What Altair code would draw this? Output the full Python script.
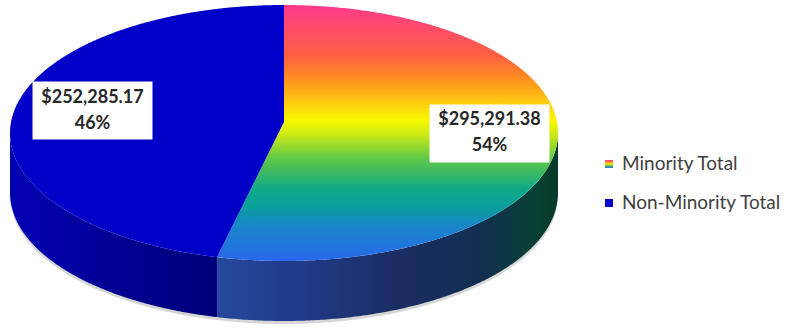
import numpy as np
import pandas as pd
import altair as alt

# ---- data ----
categories = ["Minority Total", "Non-Minority Total"]
values = [295291.38, 252285.17]

# ---- pie geometry (pixel space) ----
CX, CY, A, B, VY, THICK = 284, 133, 274, 128, 122, 60
W, H = 792, 330

total = sum(values)
shares = [v / total for v in values]
th1 = 2 * np.pi * shares[0]
ex, ey = CX + A * np.sin(th1), CY - B * np.cos(th1)


def ytop(x):
    return CY - B * np.sqrt(np.clip(1 - ((x - CX) / A) ** 2, 0, 1))


def ybot(x):
    return CY + B * np.sqrt(np.clip(1 - ((x - CX) / A) ** 2, 0, 1))


def sample(x0, x1, n=200):
    t0 = np.arcsin(np.clip((x0 - CX) / A, -1, 1))
    t1 = np.arcsin(np.clip((x1 - CX) / A, -1, 1))
    return CX + A * np.sin(np.linspace(t0, t1, n))


def line_v_e(x):
    return VY + (ey - VY) * (x - CX) / (ex - CX)


# minority top
xa = np.linspace(ex, CX - 0.01, 80)
xb = sample(CX, CX + A)
min_top = pd.DataFrame({
    "x": np.concatenate([xa, xb]),
    "y": np.concatenate([line_v_e(xa), ytop(xb)]),
    "y2": np.concatenate([ybot(xa), ybot(xb)]),
})
# non-minority top
xc = sample(CX - A, ex)
xd = np.linspace(ex, CX - 0.01, 80)
non_top = pd.DataFrame({
    "x": np.concatenate([xc, xd]),
    "y": np.concatenate([ytop(xc), ytop(xd)]),
    "y2": np.concatenate([ybot(xc), line_v_e(xd)]),
})
# sides
xe = sample(ex, CX + A)
min_side = pd.DataFrame({"x": xe, "y": ybot(xe), "y2": ybot(xe) + THICK})
xf = sample(CX - A, ex)
non_side = pd.DataFrame({"x": xf, "y": ybot(xf), "y2": ybot(xf) + THICK})
xg = sample(CX - A + 4, CX + A - 2)
shadow = pd.DataFrame({"x": xg, "y": ybot(xg) + THICK - 2, "y2": ybot(xg) + THICK + 3})

# labels
F = 0.73
LX = CX + 7
mids = [np.pi * shares[0], th1 + np.pi * shares[1]]
lab = pd.DataFrame({
    "cat": categories,
    "cx": [LX + A * F * np.sin(m) for m in mids],
    "cy": [VY - B * F * np.cos(m) for m in mids],
    "money": [f"${v:,.2f}" for v in values],
    "pct": [f"{round(s * 100)}%" for s in shares],
})
lab["x0"] = lab.cx - 60
lab["x1"] = lab.cx + 60
lab["y0"] = lab.cy - 29
lab["y1"] = lab.cy + 29
lab["ym"] = lab.cy - 13
lab["yp"] = lab.cy + 13

leg = pd.DataFrame({"cat": categories, "ly": [164 + 39 * i for i in range(len(categories))]})
leg["lx"] = 622
leg["sx0"], leg["sx1"] = 605, 613
leg["sy0"], leg["sy1"] = leg.ly - 4, leg.ly + 4

xs = alt.Scale(domain=[0, W], nice=False, zero=False)
ys = alt.Scale(domain=[0, H], reverse=True, nice=False, zero=False)


def enc_area(ch):
    return ch.encode(
        x=alt.X("x:Q", scale=xs, axis=None),
        y=alt.Y("y:Q", scale=ys, axis=None),
        y2="y2:Q",
    )


def stops(lst):
    return [alt.GradientStop(color=c, offset=o) for o, c in lst]


rainbow = stops([
    (0.0, "#FF3A8C"), (0.2, "#FF6040"), (0.29, "#FF9020"), (0.37, "#FFC412"),
    (0.45, "#F8F800"), (0.51, "#C8E818"), (0.6, "#60C848"), (0.72, "#10A888"),
    (0.78, "#08A098"), (0.86, "#1888C8"), (1.0, "#2868EC"),
])
grad_top = alt.Gradient(gradient="linear", stops=rainbow, x1=0, x2=0, y1=0, y2=1)
grad_side = alt.Gradient(gradient="linear", stops=stops([
    (0.0, "#26489E"), (0.25, "#1F3A88"), (0.53, "#1B2D62"), (0.77, "#112E50"),
    (0.92, "#0A4038"), (1.0, "#083A2A"),
]), x1=0, x2=1, y1=0, y2=0)
grad_nside = alt.Gradient(gradient="linear", stops=stops([
    (0.0, "#0000B4"), (0.5, "#000094"), (1.0, "#00007A"),
]), x1=0, x2=1, y1=0, y2=0)

layers = [
    enc_area(alt.Chart(shadow).mark_area(color="#BBBBBB", opacity=0.6)),
    enc_area(alt.Chart(min_side).mark_area(color=grad_side)),
    enc_area(alt.Chart(non_side).mark_area(color=grad_nside)),
    enc_area(alt.Chart(min_top).mark_area(color=grad_top)),
    enc_area(alt.Chart(non_top).mark_area(color="#0000C8")),
]

box = alt.Chart(lab).mark_rect(color="white").encode(
    x=alt.X("x0:Q", scale=xs, axis=None), x2="x1:Q",
    y=alt.Y("y0:Q", scale=ys, axis=None), y2="y1:Q",
)
t1 = alt.Chart(lab).mark_text(font="Lato", fontSize=18, fontWeight="bold", color="#262626").encode(
    x=alt.X("cx:Q", scale=xs, axis=None), y=alt.Y("ym:Q", scale=ys, axis=None), text="money:N")
t2 = alt.Chart(lab).mark_text(font="Lato", fontSize=18, fontWeight="bold", color="#262626").encode(
    x=alt.X("cx:Q", scale=xs, axis=None), y=alt.Y("yp:Q", scale=ys, axis=None), text="pct:N")

leg_grad = alt.Gradient(gradient="linear", stops=stops([
    (0.0, "#FF3A8C"), (0.3, "#FF9020"), (0.5, "#F8F800"), (0.7, "#60C848"), (1.0, "#2868EC"),
]), x1=0, x2=0, y1=0, y2=1)
sw1 = alt.Chart(leg.iloc[[0]]).mark_rect(color=leg_grad).encode(
    x=alt.X("sx0:Q", scale=xs, axis=None), x2="sx1:Q",
    y=alt.Y("sy0:Q", scale=ys, axis=None), y2="sy1:Q")
sw2 = alt.Chart(leg.iloc[[1]]).mark_rect(color="#0000C8").encode(
    x=alt.X("sx0:Q", scale=xs, axis=None), x2="sx1:Q",
    y=alt.Y("sy0:Q", scale=ys, axis=None), y2="sy1:Q")
lt = alt.Chart(leg).mark_text(font="Lato", fontSize=19, align="left", baseline="middle",
                              color="#404040").encode(
    x=alt.X("lx:Q", scale=xs, axis=None), y=alt.Y("ly:Q", scale=ys, axis=None), text="cat:N")

chart = alt.layer(*layers, box, t1, t2, sw1, sw2, lt).properties(
    width=W, height=H, autosize=alt.AutoSizeParams(type="none"), padding=0,
    background="white",
).configure_view(stroke=None)

chart.save("out.html", embed_options={"renderer": "svg", "actions": False})
